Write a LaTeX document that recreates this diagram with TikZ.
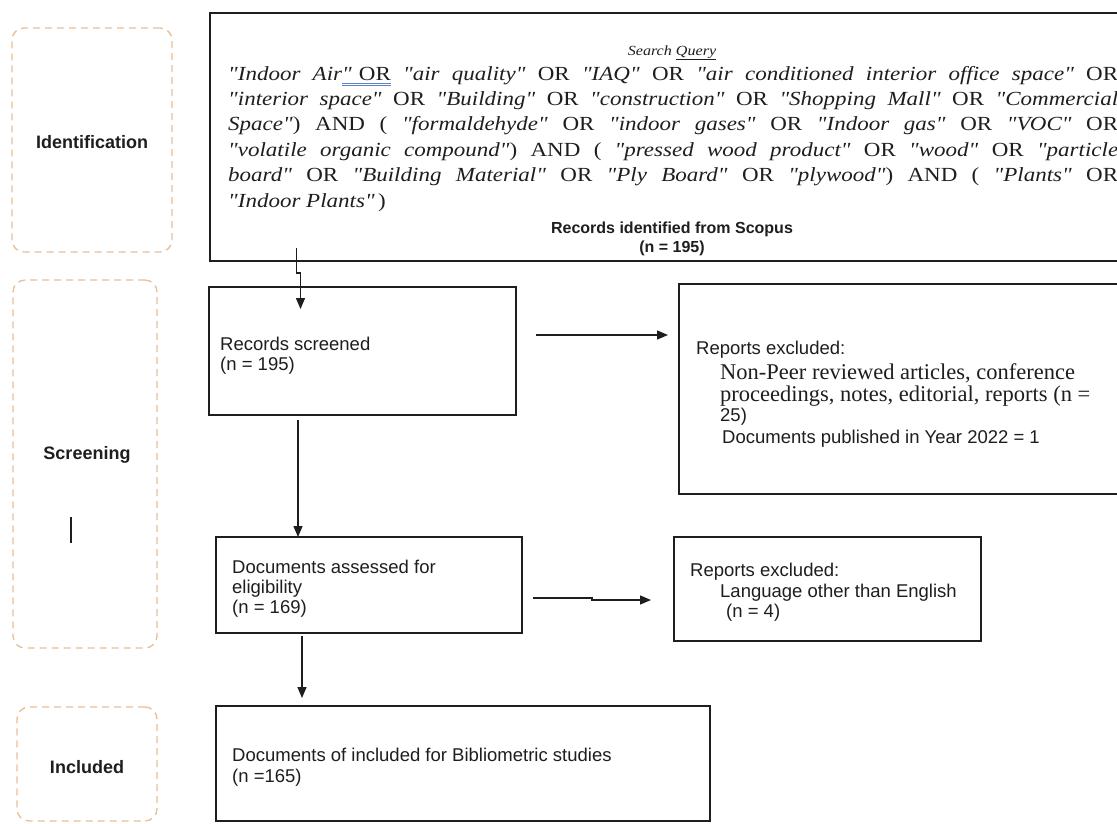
\documentclass[tikz,border=0pt]{standalone}
\usepackage{fontspec}
\setmainfont{Liberation Serif}
\setsansfont{Liberation Sans}
\newfontfamily\qf[FakeStretch=1.15]{Liberation Serif}
\usetikzlibrary{arrows.meta}
\definecolor{peach}{RGB}{234,190,150}
\definecolor{ulblue}{RGB}{90,130,200}
\definecolor{ink}{RGB}{30,30,30}
\newcommand\qq[1]{\textit{#1}}
\newcommand\qline[1]{\makebox[890pt][s]{#1}}
\newsavebox\dulbox
\newcommand\dul[1]{\sbox\dulbox{#1}\rlap{\color{ulblue}\rule[-3.5pt]{\wd\dulbox}{0.7pt}}\rlap{\color{ulblue}\rule[-6pt]{\wd\dulbox}{0.7pt}}\usebox\dulbox}
\begin{document}
\begin{tikzpicture}[x=1pt,y=1pt,
  box/.style={draw=ink, line width=1.5pt, inner sep=0pt, outer sep=0pt, anchor=north west},
  stage/.style={draw=peach, line width=1.3pt, dash pattern=on 7pt off 5pt, rounded corners=12pt, inner sep=0pt, outer sep=0pt, anchor=north west},
  lab/.style={font=\sffamily\bfseries\fontsize{18}{20}\selectfont, anchor=base, inner sep=0pt, text=ink},
  txt/.style={font=\sffamily\fontsize{18.5}{20}\selectfont, anchor=base west, inner sep=0pt, text=ink},
  ser/.style={font=\rmfamily\fontsize{22.5}{24}\selectfont, anchor=base west, inner sep=0pt, text=ink},
  qry/.style={font=\qf\fontsize{20}{24}\selectfont, anchor=base west, inner sep=0pt, text=ink},
  hdr/.style={font=\sffamily\bfseries\fontsize{16}{18}\selectfont, anchor=base, inner sep=0pt, text=ink},
  arr/.style={draw=ink, line width=1.4pt, -{Triangle[length=11pt,width=9pt]}}]
\useasboundingbox (0,0) rectangle (1117,-823);
\fill[white] (0,0) rectangle (1117,-823);
\clip (0,0) rectangle (1117,-823);

% stage boxes
\node[stage, minimum width=160pt, minimum height=224pt] (idb) at (12,-28) {};
\node[stage, minimum width=144pt, minimum height=368pt] (scb) at (13,-280) {};
\node[stage, minimum width=140pt, minimum height=114pt] (inb) at (17,-707) {};
\node[lab] (idl) at (92,-148) {Identification};
\node[lab] (scl) at (87,-459) {Screening};
\node[lab] (inl) at (87,-773) {Included};
\draw[ink, line width=1.3pt] (71,-517) -- (71,-543);

% boxes
\node[box, minimum width=930pt, minimum height=248pt] (tq) at (210,-13) {};
\node[box, minimum width=307pt, minimum height=128pt] (rs) at (209,-287) {};
\node[box, minimum width=461pt, minimum height=210pt] (rx1) at (679,-284) {};
\node[box, minimum width=306pt, minimum height=96pt] (da) at (216,-537) {};
\node[box, minimum width=307pt, minimum height=104pt] (rx2) at (674,-537) {};
\node[box, minimum width=494pt, minimum height=115pt] (di) at (216,-706) {};

% search query text
\node[font=\qf\itshape\fontsize{14}{16}\selectfont, anchor=base, inner sep=0pt, text=ink] (sq) at (672,-55) {Search \underline{Query}};
\node[qry] (q1) at (228,-80) {\qline{\qq{"Indoor Air}\dul{\qq{"}\hspace{7pt}OR} \qq{"air quality"} OR \qq{"IAQ"} OR \qq{"air conditioned interior office space"} OR}};
\node[qry] (q2) at (228,-105.4) {\qline{\qq{"interior space"} OR \qq{"Building"} OR \qq{"construction"} OR \qq{"Shopping Mall"} OR \qq{"Commercial}}};
\node[qry] (q3) at (228,-130.8) {\qline{\qq{Space"}) AND ( \qq{"formaldehyde"} OR \qq{"indoor gases"} OR \qq{"Indoor gas"} OR \qq{"VOC"} OR}};
\node[qry] (q4) at (228,-156.2) {\qline{\qq{"volatile organic compound"}) AND ( \qq{"pressed wood product"} OR \qq{"wood"} OR \qq{"particle}}};
\node[qry] (q5) at (228,-181.6) {\qline{\qq{board"} OR \qq{"Building Material"} OR \qq{"Ply Board"} OR \qq{"plywood"}) AND ( \qq{"Plants"} OR}};
\node[qry] (q6) at (228,-207) {\qq{"Indoor Plants"}\,)};
\node[hdr] (ri1) at (672,-233) {Records identified from Scopus};
\node[hdr] (ri2) at (672,-252) {(n = 195)};

% box texts
\node[txt] (rs1) at (220,-350) {Records screened};
\node[txt] (rs2) at (220,-370) {(n = 195)};

\node[txt] (r1a) at (696,-354) {Reports excluded:};
\node[ser] (r1b) at (720,-379) {Non-Peer reviewed articles, conference};
\node[ser] (r1c) at (720,-401) {proceedings, notes, editorial, reports (n =};
\node[txt] (r1d) at (720,-421) {25)};
\node[txt] (r1e) at (722,-443) {Documents published in Year 2022 = 1};

\node[txt] (da1) at (232,-573) {Documents assessed for};
\node[txt] (da2) at (232,-593) {eligibility};
\node[txt] (da3) at (232,-613) {(n = 169)};

\node[txt] (r2a) at (690,-576) {Reports excluded:};
\node[txt] (r2b) at (720,-597) {Language other than English};
\node[txt] (r2c) at (726,-617) {(n = 4)};

\node[txt] (di1) at (232,-761) {Documents of included for Bibliometric studies};
\node[txt] (di2) at (232,-782) {(n =165)};

% connectors
\coordinate (a1s) at (296.5,-248);
\coordinate (a1e) at (300.5,-309);
\draw[arr] (a1s) -- ([yshift=-25pt]a1s) -| (a1e);
\draw[arr] ([xshift=20pt,yshift=16pt]rs.east) -- ([xshift=-11pt,yshift=54pt]rx1.west);
\draw[arr] ([xshift=-64.5pt,yshift=-5pt]rs.south) -- ([xshift=-71pt]da.north);
\draw[arr] ([xshift=11pt,yshift=-13pt]da.east) -- ++(59pt,0) -- ++(0,-2pt) -- ([xshift=-23pt,yshift=-11pt]rx2.west);
\draw[arr] ([xshift=-67pt,yshift=-3pt]da.south) -- ([xshift=-161pt,yshift=8pt]di.north);
\end{tikzpicture}
\end{document}
